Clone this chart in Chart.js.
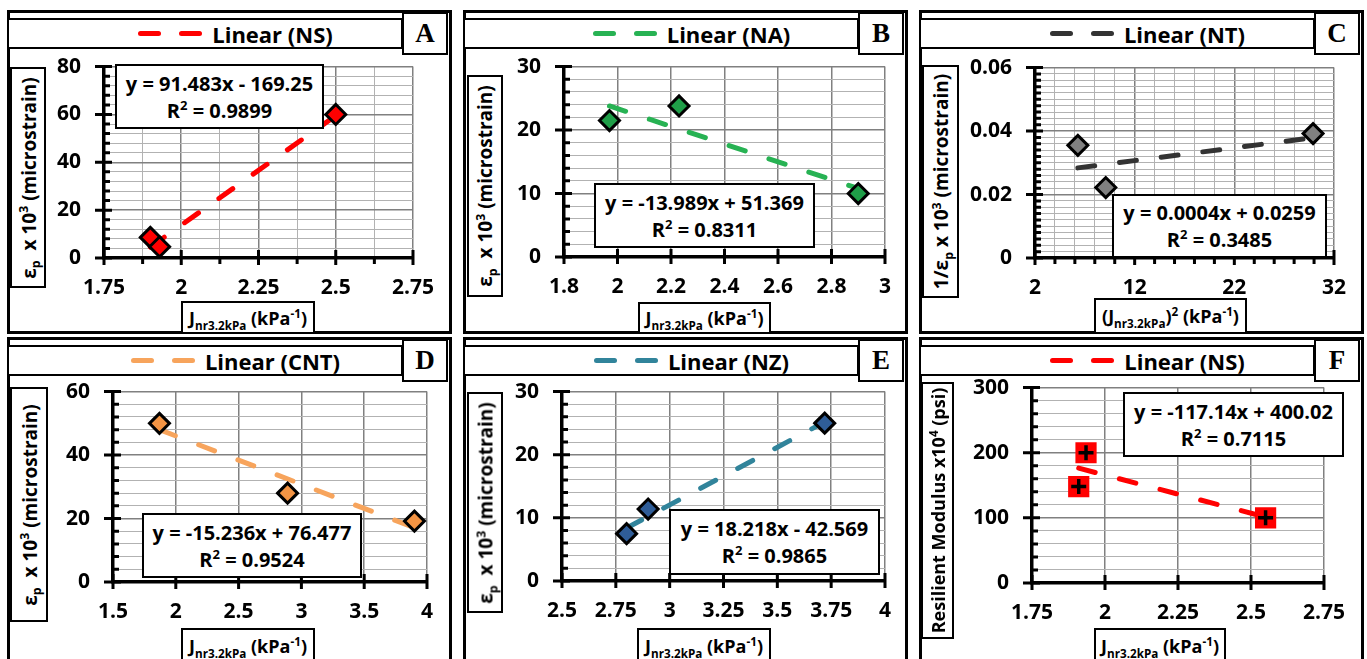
<!DOCTYPE html>
<html>
<head>
<meta charset="utf-8">
<script src="https://cdn.jsdelivr.net/npm/chart.js@4.4.0/dist/chart.umd.min.js"></script>
<style>
body { margin: 0; background: #fff; font-family: "Open Sans", sans-serif; font-weight: 700; color: #000; }
#stage { position: relative; width: 1367px; height: 659px; overflow: hidden; }
.frame { position: absolute; box-sizing: border-box; border: 3px solid #000; z-index: 0; }
.plot { position: absolute; z-index: 1; line-height: 0; }
.box { position: absolute; box-sizing: border-box; border: 2px solid #000; background: #fff; z-index: 2; }
.legend .in { position: absolute; left: 0; top: 0; height: 100%; display: flex; align-items: center; justify-content: center; font-size: 22px; white-space: nowrap; }
.dash { display: inline-block; width: 23px; height: 5px; border-radius: 3px; margin-right: 18px; }
.dash.last { margin-right: 10px; }
.letter { font-family: "Liberation Serif", serif; font-size: 27px; display: flex; align-items: center; justify-content: center; }
.eq { font-size: 20px; line-height: 27px; text-align: center; display: flex; flex-direction: column; justify-content: center; white-space: nowrap; }
.xt { font-size: 18px; display: flex; align-items: center; justify-content: center; white-space: nowrap; }
.yt .in { position: absolute; font-size: 19px; white-space: nowrap; display: flex; align-items: center; justify-content: center; transform: rotate(-90deg); }
sub, sup { font-size: 0.65em; line-height: 0; }
</style>
</head>
<body>
<div id="stage"></div>
<script>
// values
const nsJnr = [1.9, 1.93, 2.5];
const nsStrain = [8.6, 4.7, 60];
const nsFitJnr = [1.9, 2.5];
const nsFitStrain = [4.6, 59.5];

const naJnr = [1.97, 2.23, 2.9];
const naStrain = [21.5, 23.8, 10];
const naFitJnr = [1.97, 2.9];
const naFitStrain = [23.8, 10.8];

const ntJnrSq = [6.3, 9.1, 29.9];
const ntInvStrain = [0.0355, 0.0222, 0.0392];
const ntFitJnrSq = [6.3, 29.9];
const ntFitInvStrain = [0.0284, 0.0379];

const cntJnr = [1.87, 2.89, 3.9];
const cntStrain = [50, 28, 19.2];
const cntFitJnr = [1.87, 3.9];
const cntFitStrain = [48, 17.1];

const nzJnr = [2.8, 2.9, 3.72];
const nzStrain = [7.5, 11.4, 25];
const nzFitJnr = [2.8, 3.72];
const nzFitStrain = [8.4, 25.2];

const mrJnr = [1.91, 1.935, 2.55];
const mrModulus = [148, 200, 100];
const mrFitJnr = [1.91, 2.55];
const mrFitModulus = [176.3, 101.3];

// axis ranges: [min, max, labelled step, grid step]
const nsXAxis = [1.75, 2.75, 0.25, 0.125], nsYAxis = [0, 80, 20, 4];
const naXAxis = [1.8, 3, 0.2, 0.2], naYAxis = [0, 30, 10, 2];
const ntXAxis = [2, 32, 10, 2], ntYAxis = [0, 0.06, 0.02, 0.002];
const cntXAxis = [1.5, 4, 0.5, 0.5], cntYAxis = [0, 60, 20, 4];
const nzXAxis = [2.5, 4, 0.25, 0.25], nzYAxis = [0, 30, 10, 2];
const mrXAxis = [1.75, 2.75, 0.25, 0.25], mrYAxis = [0, 300, 100, 20];

const letters = ["A", "B", "C", "D", "E", "F"];
const legendLabels = ["Linear (NS)", "Linear (NA)", "Linear (NT)", "Linear (CNT)", "Linear (NZ)", "Linear (NS)"];
const equations = [
  ["y = 91.483x - 169.25", "R<sup>2</sup> = 0.9899"],
  ["y = -13.989x + 51.369", "R<sup>2</sup> = 0.8311"],
  ["y = 0.0004x + 0.0259", "R<sup>2</sup> = 0.3485"],
  ["y = -15.236x + 76.477", "R<sup>2</sup> = 0.9524"],
  ["y = 18.218x - 42.569", "R<sup>2</sup> = 0.9865"],
  ["y = -117.14x + 400.02", "R<sup>2</sup> = 0.7115"]
];
const strainTitle = "ε<sub>p</sub>&nbsp; x 10<sup>3</sup> (microstrain)";
const jnrTitle = "J<sub>nr3.2kPa</sub> (kPa<sup>-1</sup>)";

const panels = [
  { x: nsJnr, y: nsStrain, fx: nsFitJnr, fy: nsFitStrain, xa: nsXAxis, ya: nsYAxis,
    line: "#ff0000", fill: "#ff0000",
    frame: [7, 10], plot: [104, 67, 413, 259], eqBox: [115, 64, 324, 129],
    yBox: [10, 67, 46, 288], xBox: [181, 301, 315, 334], yTitle: strainTitle, xTitle: jnrTitle },
  { x: naJnr, y: naStrain, fx: naFitJnr, fy: naFitStrain, xa: naXAxis, ya: naYAxis,
    line: "#27b253", fill: "#1f9e48",
    frame: [463, 10], plot: [564, 67, 885, 258], eqBox: [594, 183, 815, 248],
    yBox: [467, 75, 503, 297], xBox: [638, 302, 771, 334], yTitle: strainTitle, xTitle: jnrTitle },
  { x: ntJnrSq, y: ntInvStrain, fx: ntFitJnrSq, fy: ntFitInvStrain, xa: ntXAxis, ya: ntYAxis,
    line: "#333333", fill: "#808080",
    frame: [919, 10], plot: [1035, 68, 1334, 259], eqBox: [1112, 194, 1327, 258],
    yBox: [922, 65, 959, 298], xBox: [1094, 298, 1247, 334],
    yTitle: "1/ε<sub>p</sub> x 10<sup>3</sup> (microstrain)",
    xTitle: "(J<sub>nr3.2kPa</sub>)<sup>2</sup> (kPa<sup>-1</sup>)" },
  { x: cntJnr, y: cntStrain, fx: cntFitJnr, fy: cntFitStrain, xa: cntXAxis, ya: cntYAxis,
    line: "#f7a45c", fill: "#f39444",
    frame: [7, 337], plot: [113, 392, 427, 583], eqBox: [142, 513, 362, 578],
    yBox: [10, 387, 48, 622], xBox: [181, 628, 315, 664], yTitle: strainTitle, xTitle: jnrTitle },
  { x: nzJnr, y: nzStrain, fx: nzFitJnr, fy: nzFitStrain, xa: nzXAxis, ya: nzYAxis,
    line: "#31849b", fill: "#2f5d98",
    frame: [463, 337], plot: [562, 392, 885, 582], eqBox: [669, 509, 880, 575],
    yBox: [467, 392, 503, 613], xBox: [637, 628, 771, 664], yTitle: strainTitle, xTitle: jnrTitle },
  { x: mrJnr, y: mrModulus, fx: mrFitJnr, fy: mrFitModulus, xa: mrXAxis, ya: mrYAxis,
    line: "#ff0000", fill: "#ff0000", cross: true,
    frame: [919, 337], plot: [1032, 388, 1324, 584], eqBox: [1123, 392, 1344, 457],
    yBox: [921, 382, 954, 639], xBox: [1094, 628, 1226, 664], yTitle: "Resilient Modulus x10<sup>4</sup> (psi)", xTitle: jnrTitle,
    yFont: 18 }
];

const stage = document.getElementById("stage");

function addBox(cls, l, t, r, b, html) {
  const d = document.createElement("div");
  d.className = "box " + cls;
  d.style.left = l + "px";
  d.style.top = t + "px";
  d.style.width = (r - l) + "px";
  d.style.height = (b - t) + "px";
  if (html) d.innerHTML = html;
  stage.appendChild(d);
  return d;
}

function isMajorFn(ax) {
  return v => {
    const k = (v - ax[0]) / ax[2];
    return Math.abs(k - Math.round(k)) < 1e-6;
  };
}

function axisOpts(ax, pos) {
  const [min, max, , step] = ax;
  const major = isMajorFn(ax);
  return {
    type: "linear",
    position: pos,
    min: min,
    max: max,
    afterBuildTicks: s => {
      const n = Math.round((max - min) / step);
      const t = [];
      for (let i = 0; i <= n; i++) t.push({ value: +(min + i * step).toFixed(6) });
      s.ticks = t;
    },
    afterFit: s => {
      if (pos === "left") s.width = 80;
      else s.height = 50;
    },
    ticks: {
      callback: v => (major(v) ? String(+Number(v).toFixed(4)) : ""),
      font: { family: "Open Sans", weight: "bold", size: 21 },
      color: "#000",
      padding: pos === "left" ? 23 : 17,
      autoSkip: false,
      maxRotation: 0,
      minRotation: 0
    },
    grid: {
      color: c => (c.tick && !major(c.tick.value) ? "#b2b2b2" : "#808080"),
      lineWidth: c => (c.tick && !major(c.tick.value) ? 1 : 1.5),
      drawTicks: false
    },
    border: { color: "#000", width: 3.5 }
  };
}

function tickPlugin(p) {
  const mx = isMajorFn(p.xa), my = isMajorFn(p.ya);
  return {
    id: "tickMarks",
    beforeDatasetsDraw(chart) {
      const ctx = chart.ctx, a = chart.chartArea;
      const xs = chart.scales.x, ys = chart.scales.y;
      ctx.save();
      ctx.strokeStyle = "#000";
      ctx.lineWidth = 3;
      ctx.beginPath();
      ys.ticks.forEach(t => {
        const py = ys.getPixelForValue(t.value);
        if (my(t.value)) { ctx.moveTo(a.left - 9, py); ctx.lineTo(a.left + 8, py); }
        else { ctx.moveTo(a.left, py); ctx.lineTo(a.left + 6, py); }
      });
      xs.ticks.forEach(t => {
        const px = xs.getPixelForValue(t.value);
        if (mx(t.value)) { ctx.moveTo(px, a.bottom - 8); ctx.lineTo(px, a.bottom + 7); }
        else { ctx.moveTo(px, a.bottom); ctx.lineTo(px, a.bottom + 6); }
      });
      ctx.stroke();
      ctx.restore();
    }
  };
}

function chartConfig(p) {
  const pts = p.x.map((v, k) => ({ x: v, y: p.y[k] }));
  const fit = p.fx.map((v, k) => ({ x: v, y: p.fy[k] }));
  const datasets = [];
  if (p.cross) {
    datasets.push({ data: pts, pointStyle: "rect", pointRadius: 15, pointBackgroundColor: p.fill, pointBorderWidth: 0, order: 1 });
    datasets.push({ data: pts, pointStyle: "cross", pointRadius: 7.5, pointBorderColor: "#000", pointBorderWidth: 3.5, order: 0 });
  } else {
    datasets.push({ data: pts, pointStyle: "rectRot", pointRadius: 10, pointBackgroundColor: p.fill, pointBorderColor: "#000", pointBorderWidth: 3, order: 0 });
  }
  datasets.push({ data: fit, showLine: true, pointRadius: 0, borderColor: p.line, borderWidth: 5,
    borderDash: [17, 25], borderCapStyle: "round", order: 5 });
  return {
    type: "scatter",
    data: { datasets: datasets },
    options: {
      responsive: false,
      maintainAspectRatio: false,
      animation: false,
      devicePixelRatio: 1,
      events: [],
      layout: { padding: 0 },
      plugins: { legend: { display: false }, tooltip: { enabled: false } },
      scales: { x: axisOpts(p.xa, "bottom"), y: axisOpts(p.ya, "left") }
    },
    plugins: [tickPlugin(p)]
  };
}

panels.forEach((p, i) => {
  const [fl, ft] = p.frame;
  const row2 = ft > 100;

  // outer frame
  const fr = document.createElement("div");
  fr.className = "frame";
  fr.style.left = fl + "px";
  fr.style.top = ft + "px";
  fr.style.width = "445px";
  fr.style.height = (row2 ? 330 : 324) + "px";
  stage.appendChild(fr);

  // legend box
  const lt = row2 ? 345 : 18;
  const lg = addBox("legend", fl, lt, fl + 396, lt + 31);
  const inner = document.createElement("div");
  inner.className = "in";
  inner.style.width = "453px";
  inner.innerHTML = '<span class="dash" style="background:' + p.line + '"></span>' +
    '<span class="dash last" style="background:' + p.line + '"></span><span>' + legendLabels[i] + "</span>";
  lg.appendChild(inner);

  // panel letter
  const tt = row2 ? 339 : 12;
  addBox("letter", fl + 395, tt, fl + 441, tt + 43, letters[i]);

  // axis titles
  const [yl, yt, yr, yb] = p.yBox;
  const yBox = addBox("yt", yl, yt, yr, yb);
  const w = yr - yl - 4, h = yb - yt - 4;
  const yi = document.createElement("div");
  yi.className = "in";
  yi.style.width = h + "px";
  yi.style.height = w + "px";
  yi.style.left = (w - h) / 2 + "px";
  yi.style.top = (h - w) / 2 + "px";
  if (p.yFont) yi.style.fontSize = p.yFont + "px";
  yi.innerHTML = "<span>" + p.yTitle + "</span>";
  yBox.appendChild(yi);
  addBox("xt", p.xBox[0], p.xBox[1], p.xBox[2], p.xBox[3], "<span>" + p.xTitle + "</span>");

  // equation box
  addBox("eq", p.eqBox[0], p.eqBox[1], p.eqBox[2], p.eqBox[3],
    "<div>" + equations[i][0] + "</div><div>" + equations[i][1] + "</div>");

  // chart: first pass measures the space around the plot area, second pass places it
  const [L, T, R, B] = p.plot;
  const wrap = document.createElement("div");
  wrap.className = "plot";
  stage.appendChild(wrap);
  let cv = document.createElement("canvas");
  cv.width = R - L + 160;
  cv.height = B - T + 120;
  wrap.appendChild(cv);
  let ch = new Chart(cv.getContext("2d"), chartConfig(p));
  const a = ch.chartArea;
  const offL = a.left, offT = a.top, offR = cv.width - a.right, offB = cv.height - a.bottom;
  ch.destroy();
  wrap.removeChild(cv);

  cv = document.createElement("canvas");
  cv.width = R - L + offL + offR;
  cv.height = B - T + offT + offB;
  wrap.appendChild(cv);
  wrap.style.left = (L - offL) + "px";
  wrap.style.top = (T - offT) + "px";
  new Chart(cv.getContext("2d"), chartConfig(p));
});
</script>
</body>
</html>
